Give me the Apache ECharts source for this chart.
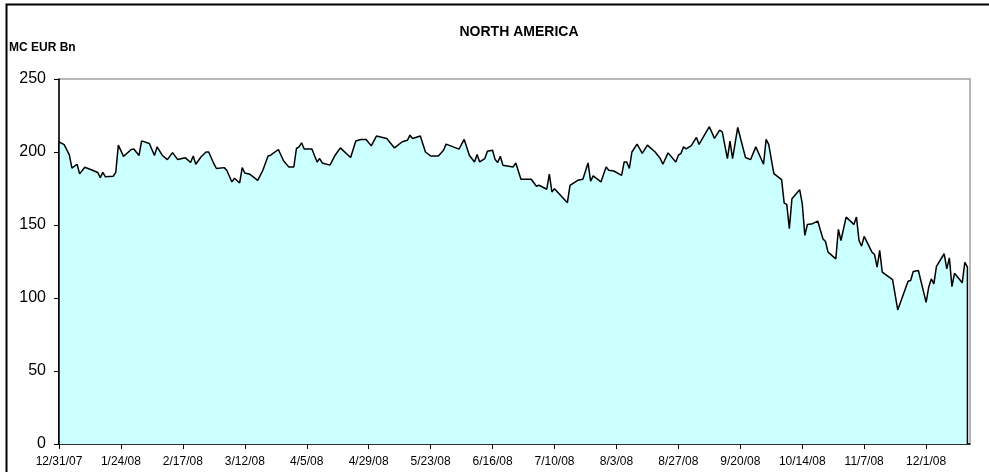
<!DOCTYPE html>
<html>
<head>
<meta charset="utf-8">
<script src="https://cdn.jsdelivr.net/npm/echarts@6/dist/echarts.min.js"></script>
<style>
  html, body { margin: 0; padding: 0; background: #fff; }
  #chart { width: 989px; height: 472px; }
</style>
</head>
<body>
<div id="chart"></div>
<script>
// Market capitalisation, North America, EUR billions (daily closes)
const chartTitle = 'NORTH AMERICA';
const unitLabel = 'MC EUR Bn';

// Days counted from 12/31/07
const dayIndex = [
  0, 2, 4, 5, 7, 8, 10, 13, 15, 16, 17, 18, 21, 22, 23, 25, 28, 29, 31, 32,
  35, 37, 38, 40, 42, 44, 46, 49, 51, 52, 53, 55, 57, 58, 60, 61, 64, 65, 67, 68,
  70, 71, 72, 74, 77, 79, 81, 82, 85, 87, 89, 91, 92, 93, 94, 95, 98, 100, 101, 102,
  105, 107, 109, 113, 115, 117, 119, 121, 123, 127, 130, 133, 135, 136, 137, 140, 142, 144, 147, 149,
  150, 155, 157, 159, 161, 162, 163, 165, 166, 168, 169, 170, 171, 172, 176, 177, 179, 180, 183, 185,
  186, 189, 190, 191, 192, 197, 198, 201, 203, 205, 206, 207, 210, 212, 213, 215, 218, 219, 220, 221,
  222, 224, 226, 228, 231, 233, 234, 236, 239, 240, 241, 242, 243, 245, 247, 248, 252, 254, 256, 257,
  259, 260, 261, 263, 266, 268, 270, 273, 274, 275, 277, 280, 281, 282, 283, 284, 287, 288, 289, 290,
  292, 294, 296, 297, 298, 301, 302, 303, 305, 308, 309, 310, 311, 312, 315, 316, 317, 318, 319, 323,
  325, 329, 330, 331, 333, 336, 337, 338, 339, 340, 343, 344, 345, 346, 347, 350, 351, 352
];

const values = [
  207, 205, 198, 189, 191.6, 185, 189.6, 187.5, 186, 182.5, 186, 183, 183.4, 186, 204.7, 197, 201.7, 202, 197.6, 207.6,
  205.8, 197.6, 203.5, 197.8, 194.8, 199.6, 194.8, 196, 192.8, 197.3, 191.6, 196.6, 200, 200, 192, 188.7, 189.3, 187.5, 179.5, 182,
  178.8, 189.3, 185.6, 184.7, 180.6, 187.5, 197.3, 197.8, 201.7, 194, 189.8, 189.8, 202.4, 203.5, 206.3, 202, 202, 193.2, 195.5, 192.5,
  191, 197.8, 202.8, 196.2, 207.6, 208.6, 208.6, 204.2, 210.9, 209.3, 202.8, 207, 208, 211.5, 209.3, 210.9, 200, 197.3, 197.3, 201.2,
  205.4, 202, 208.6, 197.8, 193.2, 198.3, 193.2, 195.5, 200.5, 201.2, 194.8, 192.8, 197.1, 191, 189.8, 192.5, 181.3, 181.3, 181.3, 176.5,
  177.2, 174.5, 184.8, 172.6, 174.9, 165.3, 177.2, 180.6, 181.3, 192.5, 180.1, 183.6, 179.5, 189.8, 187.5, 187, 184, 193.2, 193.2, 188.7,
  200, 205.4, 199, 204.7, 200, 195.5, 191.6, 199.4, 193.2, 197.8, 199, 203.5, 202.2, 204.4, 210, 205.2, 217.3, 209.3, 215, 213.8,
  195.5, 207.4, 195.5, 216.8, 196.2, 194.8, 203.5, 191.6, 208.6, 205.2, 185.2, 181.1, 165, 164.1, 147.5, 168, 174.2, 164.6, 142.9, 150.4,
  150.9, 152.7, 140.6, 138.7, 131.4, 126.8, 147, 139.4, 155.4, 150.4, 155.4, 139.4, 135.5, 142.2, 131.4, 129.8, 121.1, 132.6, 117.7, 112.6,
  91.8, 111.5, 112, 118.1, 118.8, 97, 107.4, 113.1, 109.7, 121.6, 130.3, 120, 127.5, 107.8, 117, 110.4, 124.5, 121.1
];

const tickLabels = [
  '12/31/07', '1/24/08', '2/17/08', '3/12/08', '4/5/08', '4/29/08', '5/23/08', '6/16/08',
  '7/10/08', '8/3/08', '8/27/08', '9/20/08', '10/14/08', '11/7/08', '12/1/08'
];

const yMin = 0, yMax = 250, yStep = 50;
const lastDay = 353;

const DAY_MS = 86400000;
const origin = Date.UTC(2007, 11, 31);
function dayOf(label) {
  const [m, d, yy] = label.split('/').map(Number);
  return Math.round((Date.UTC(2000 + yy, m - 1, d) - origin) / DAY_MS);
}
function labelOf(day) {
  const dt = new Date(origin + day * DAY_MS);
  return (dt.getUTCMonth() + 1) + '/' + dt.getUTCDate() + '/' + String(dt.getUTCFullYear() % 100).padStart(2, '0');
}
const tickDays = tickLabels.map(dayOf);

// Closed outline: drop to the baseline at both ends
const points = dayIndex.map((d, i) => [d, values[i]]);
const outline = [[dayIndex[0], 0]].concat(points, [[dayIndex[dayIndex.length - 1], 0]]);

const chart = echarts.init(document.getElementById('chart'), null, { renderer: 'canvas' });
chart.setOption({
  animation: false,
  backgroundColor: '#ffffff',
  title: {
    text: chartTitle,
    left: 514,
    textAlign: 'center',
    top: 20,
    textStyle: { fontFamily: 'Liberation Sans, Arial, sans-serif', fontSize: 14, fontWeight: 'bold', color: '#000' }
  },
  graphic: [
    {
      type: 'rect',
      shape: { x: 6.5, y: 4.5, width: 1200, height: 600 },
      style: { fill: 'none', stroke: '#000', lineWidth: 2 },
      silent: true
    },
    {
      type: 'text',
      left: 9,
      top: 42,
      style: { text: unitLabel, fontFamily: 'Liberation Sans, Arial, sans-serif', fontSize: 12, fontWeight: 'bold', fill: '#000' }
    }
  ],
  grid: {
    left: 59, right: 19, top: 79, bottom: 28,
    show: true, borderColor: '#a0a0a0', borderWidth: 1.5, backgroundColor: 'transparent'
  },
  xAxis: {
    type: 'value',
    min: 0,
    max: lastDay,
    axisLine: { show: true, lineStyle: { color: '#000', width: 1.5 } },
    axisTick: { show: true, length: 5, lineStyle: { color: '#000' }, customValues: tickDays },
    axisLabel: {
      customValues: tickDays,
      formatter: v => labelOf(v),
      margin: 12,
      fontFamily: 'Liberation Sans, Arial, sans-serif',
      fontSize: 12,
      color: '#000'
    },
    splitLine: { show: false }
  },
  yAxis: {
    type: 'value',
    min: yMin,
    max: yMax,
    interval: yStep,
    axisLine: { show: true, lineStyle: { color: '#000', width: 1.5 } },
    axisTick: { show: true, length: 5, lineStyle: { color: '#000' } },
    axisLabel: { margin: 13, fontFamily: 'Liberation Sans, Arial, sans-serif', fontSize: 16, color: '#000' },
    splitLine: { show: false }
  },
  series: [{
    type: 'line',
    data: outline,
    symbol: 'none',
    z: 1,
    lineStyle: { color: '#000', width: 1.5 },
    areaStyle: { color: '#CCFFFF', opacity: 1 }
  }]
});
</script>
</body>
</html>
